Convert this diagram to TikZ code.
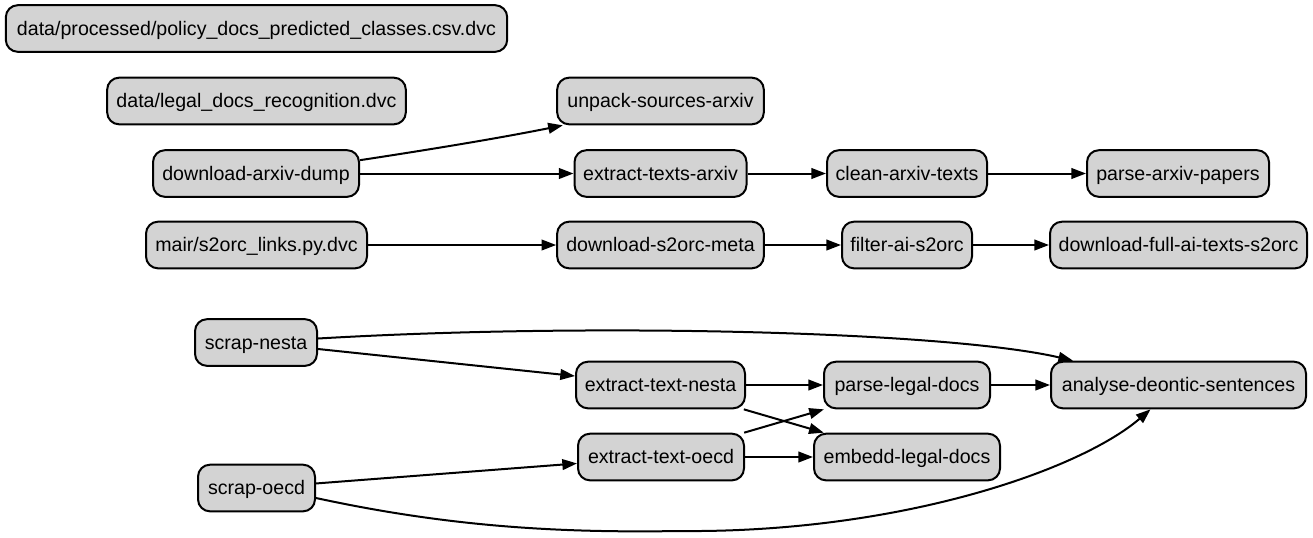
\documentclass[tikz,border=0pt]{standalone}
\usepackage{fontspec}
\setmainfont{Liberation Sans}
\usetikzlibrary{arrows.meta,calc}
\definecolor{stagegray}{HTML}{D3D3D3}
\tikzset{
  stage/.style={draw, fill=stagegray, line width=1.5pt, rectangle, rounded corners=9pt,
                minimum height=35pt, inner xsep=0pt,
                font=\fontsize{14.7}{17}\selectfont, text height=11pt, text depth=1pt},
  dep/.style={-{Triangle[length=11pt,width=8pt]}, line width=1.5pt}
}

\begin{document}
\begin{tikzpicture}[x=0.75pt,y=-0.75pt]
  \useasboundingbox (0,0) rectangle (1313,537);

  % stages
  \node[stage, minimum width=376pt] (policy) at (256.5,28.5) {data/processed/policy\_docs\_predicted\_classes.csv.dvc};
  \node[stage, minimum width=224pt] (legal) at (256.5,101) {data/legal\_docs\_recognition.dvc};
  \node[stage, minimum width=155pt] (unpack) at (660.5,101) {unpack-sources-arxiv};
  \node[stage, minimum width=154.5pt] (dump) at (256,173.5) {download-arxiv-dump};
  \node[stage, minimum width=129pt] (extarxiv) at (660.5,173.5) {extract-texts-arxiv};
  \node[stage, minimum width=120pt] (clean) at (907,173.5) {clean-arxiv-texts};
  \node[stage, minimum width=136.5pt] (parsearxiv) at (1178,173.5) {parse-arxiv-papers};
  \node[stage, minimum width=165.75pt] (links) at (256.5,245) {mair/s2orc\_links.py.dvc};
  \node[stage, minimum width=155pt] (meta) at (660.5,245) {download-s2orc-meta};
  \node[stage, minimum width=97.5pt] (filter) at (907,245) {filter-ai-s2orc};
  \node[stage, minimum width=192.75pt] (fulltexts) at (1178.5,245) {download-full-ai-texts-s2orc};
  \node[stage, minimum width=91.5pt] (nesta) at (256,342.5) {scrap-nesta};
  \node[stage, minimum width=126.75pt] (extnesta) at (660.5,385) {extract-text-nesta};
  \node[stage, minimum width=124.5pt] (parselegal) at (907,385) {parse-legal-docs};
  \node[stage, minimum width=191.25pt] (deontic) at (1178.5,385) {analyse-deontic-sentences};
  \node[stage, minimum width=139.5pt] (embedd) at (907,457) {embedd-legal-docs};
  \node[stage, minimum width=124.5pt] (extoecd) at (661,457) {extract-text-oecd};
  \node[stage, minimum width=87.75pt] (oecd) at (256.5,488) {scrap-oecd};

  % arxiv chain
  \draw[dep] ([yshift=10pt]dump.east) .. controls (440,148) and (505,137) .. (unpack.194);
  \draw[dep] (dump) -- (extarxiv);
  \draw[dep] (extarxiv) -- (clean);
  \draw[dep] (clean) -- (parsearxiv);

  % s2orc chain
  \draw[dep] (links) -- (meta);
  \draw[dep] (meta) -- (filter);
  \draw[dep] (filter) -- (fulltexts);

  % legal docs
  \draw[dep] ([yshift=3pt]nesta.east) .. controls (600,322) and (950,332) .. (deontic.167);
  \draw[dep] (nesta) -- (extnesta);
  \draw[dep] (oecd) -- (extoecd);
  \draw[dep] ([yshift=-7.5pt]oecd.east) .. controls (450,527) and (560,533) .. (680,531)
                                       .. controls (900,533) and (1080,470) .. (deontic.221);
  \draw[dep] (extnesta) -- (parselegal);
  \draw[dep] (extnesta) -- (embedd);
  \draw[dep] (extoecd) -- (parselegal);
  \draw[dep] (extoecd) -- (embedd);
  \draw[dep] (parselegal) -- (deontic);
\end{tikzpicture}
\end{document}
